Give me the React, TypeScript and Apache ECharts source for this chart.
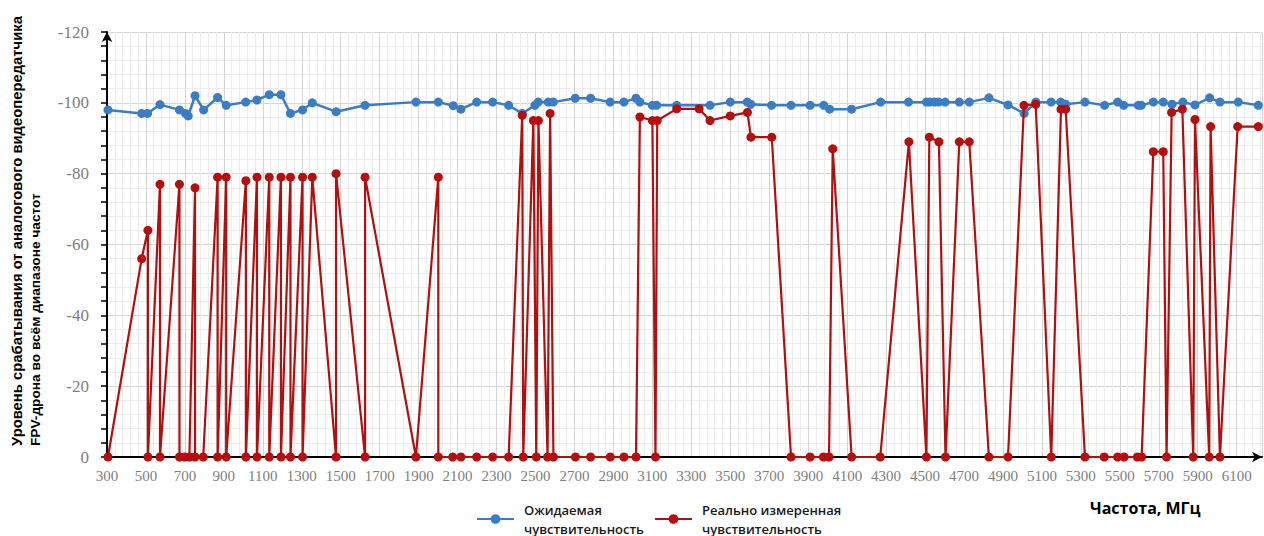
import React, { useEffect, useRef } from 'react';
import * as echarts from 'echarts';

const expectedName = 'Ожидаемая\nчувствительность';
const measuredName = 'Реально измеренная\nчувствительность';
const yTitleLine1 = 'Уровень срабатывания от аналогового видеопередатчика';
const yTitleLine2 = 'FPV-дрона во всём диапазоне частот';
const xTitle = 'Частота, МГц';

// [frequency MHz, level]
const expectedSensitivity: [number, number][] = [
  [305, -98], [478, -97], [508, -97], [572, -99.5], [672, -98], [703, -97], [717, -96.3],
  [752, -102], [796, -98], [868, -101.5], [912, -99.3], [1012, -100.2], [1070, -100.8],
  [1133, -102.3], [1193, -102.3], [1242, -97], [1304, -98], [1354, -100], [1476, -97.5],
  [1625, -99.3], [1886, -100.2], [2001, -100.2], [2078, -99.2], [2117, -98.2], [2198, -100.2],
  [2280, -100.2], [2362, -99.3], [2432, -97], [2497, -99.3], [2514, -100.2], [2565, -100.2],
  [2591, -100.2], [2704, -101.3], [2783, -101.3], [2883, -100.2], [2954, -100.2], [3016, -101.3],
  [3036, -100.2], [3100, -99.3], [3122, -99.3], [3225, -99.3], [3396, -99.3], [3500, -100.2],
  [3587, -100.2], [3605, -99.6], [3712, -99.3], [3812, -99.3], [3910, -99.3], [3980, -99.3],
  [4010, -98.2], [4123, -98.2], [4272, -100.2], [4415, -100.2], [4507, -100.2], [4524, -100.2],
  [4548, -100.2], [4570, -100.2], [4603, -100.2], [4676, -100.2], [4727, -100.2], [4828, -101.4],
  [4926, -99.4], [5009, -97], [5069, -100.2], [5147, -100.2], [5197, -100.2], [5222, -99.6],
  [5321, -100.2], [5422, -99.3], [5489, -100.2], [5520, -99.3], [5595, -99.3], [5610, -99.3],
  [5672, -100.2], [5723, -100.2], [5768, -99.6], [5824, -100.2], [5886, -99.4], [5961, -101.4],
  [6014, -100.2], [6108, -100.2], [6211, -99.3],
];

const measuredSensitivity: [number, number][] = [
  [305, 0], [478, -56], [510, -64], [510, 0], [572, -77], [572, 0], [672, -77], [672, 0],
  [700, 0], [723, 0], [752, -76], [752, 0], [794, 0], [868, -79], [868, 0], [912, -79], [912, 0],
  [1013, -78], [1013, 0], [1070, -79], [1070, 0], [1133, -79], [1133, 0], [1193, -79], [1193, 0],
  [1242, -79], [1242, 0], [1304, -79], [1304, 0], [1354, -79], [1476, 0], [1476, -80], [1625, 0],
  [1625, -79], [1886, 0], [2001, -79], [2001, 0], [2075, 0], [2117, 0], [2198, 0], [2280, 0],
  [2362, 0], [2432, -96.5], [2437, 0], [2489, -95], [2504, 0], [2515, -95], [2562, 0], [2575, -97],
  [2592, 0], [2705, 0], [2783, 0], [2884, 0], [2954, 0], [3016, 0], [3036, -96], [3100, -95],
  [3116, 0], [3125, -95], [3225, -98.3], [3340, -98.3], [3396, -95], [3500, -96.3], [3588, -97.3],
  [3606, -90.3], [3713, -90.3], [3812, 0], [3910, 0], [3978, 0], [4007, 0], [4026, -87], [4123, 0],
  [4270, 0], [4417, -89], [4507, 0], [4522, -90.3], [4571, -89], [4605, 0], [4676, -89], [4727, -89],
  [4828, 0], [4926, 0], [5008, -99.3], [5068, -99.6], [5148, 0], [5198, -98.2], [5222, -98.2],
  [5321, 0], [5420, 0], [5489, 0], [5522, 0], [5590, 0], [5612, 0], [5672, -86.2], [5723, -86.2],
  [5740, 0], [5766, -97.3], [5821, -98.2], [5877, 0], [5886, -95.3], [5959, 0], [5966, -93.3],
  [6014, 0], [6105, -93.3], [6211, -93.3],
];

const xMin = 300;
const xMax = 6230;
const xStep = 200;
const yMin = -120;
const yMax = 0;
const yStep = 20;

const serif = '"Liberation Serif", "DejaVu Serif", serif';

export default function App() {
  const ref = useRef<HTMLDivElement>(null);
  useEffect(() => {
    const chart = echarts.init(ref.current!, null, { renderer: 'svg' });
    const legendText = {
      color: '#1a1a1a',
      fontSize: 13,
      fontWeight: 600,
      fontFamily: 'Open Sans',
      lineHeight: 19,
      padding: [0, 0, 0, 5],
    };
    chart.setOption({
      animation: false,
      backgroundColor: '#ffffff',
      grid: { left: 107, right: 2, top: 32, bottom: 79, containLabel: false },
      xAxis: {
        type: 'value',
        min: xMin,
        max: xMax,
        interval: xStep,
        axisLine: {
          show: true,
          onZero: true,
          lineStyle: { color: '#000', width: 2 },
          symbol: ['none', 'arrow'],
          symbolSize: [8, 10],
        },
        axisTick: { show: false },
        minorTick: { show: false, splitNumber: 5 },
        axisLabel: {
          showMaxLabel: false,
          margin: 11,
          color: '#808080',
          fontFamily: serif,
          fontSize: 15,
          formatter: (v: number) => String(v),
        },
        splitLine: { show: true, lineStyle: { color: '#d4d4d4', width: 1 } },
        minorSplitLine: { show: true, lineStyle: { color: '#ececec', width: 1 } },
      },
      yAxis: {
        type: 'value',
        inverse: true,
        min: yMin,
        max: yMax,
        interval: yStep,
        axisLine: {
          show: true,
          onZero: false,
          lineStyle: { color: '#000', width: 2 },
          symbol: ['none', 'arrow'],
          symbolSize: [8, 10],
        },
        axisTick: { show: true, length: 6, lineStyle: { color: '#000', width: 1.5 } },
        minorTick: { show: true, splitNumber: 5, length: 6, lineStyle: { color: '#000', width: 1.5 } },
        axisLabel: {
          margin: 18,
          color: '#808080',
          fontFamily: serif,
          fontSize: 17,
          formatter: (v: number) => String(v),
        },
        splitLine: { show: true, lineStyle: { color: '#d4d4d4', width: 1 } },
        minorSplitLine: { show: true, lineStyle: { color: '#ececec', width: 1 } },
      },
      legend: [
        {
          data: [expectedName],
          left: 471,
          top: 495,
          itemWidth: 37,
          itemHeight: 12,
          textStyle: legendText,
        },
        {
          data: [measuredName],
          left: 649,
          top: 495,
          itemWidth: 37,
          itemHeight: 12,
          textStyle: legendText,
        },
      ],
      graphic: [
        {
          type: 'text',
          x: 17,
          y: 446,
          rotation: Math.PI / 2,
          style: {
            text: yTitleLine1,
            font: 'bold 14.8px "Liberation Sans"',
            fill: '#000',
            align: 'left',
            verticalAlign: 'middle',
          },
        },
        {
          type: 'text',
          x: 35,
          y: 446,
          rotation: Math.PI / 2,
          style: {
            text: yTitleLine2,
            font: 'bold 13.7px "Liberation Sans"',
            fill: '#000',
            align: 'left',
            verticalAlign: 'middle',
          },
        },
        {
          type: 'text',
          x: 1090,
          y: 508,
          style: {
            text: xTitle,
            font: 'bold 16px "Open Sans"',
            fill: '#000',
            align: 'left',
            verticalAlign: 'middle',
          },
        },
      ],
      series: [
        {
          name: expectedName,
          type: 'line',
          data: expectedSensitivity,
          symbol: 'circle',
          symbolSize: 9,
          showSymbol: true,
          showAllSymbol: true,
          itemStyle: { color: '#3b7cc6' },
          lineStyle: { color: '#3b7cc6', width: 2.5 },
          z: 2,
        },
        {
          name: measuredName,
          type: 'line',
          data: measuredSensitivity,
          symbol: 'circle',
          symbolSize: 9,
          showSymbol: true,
          showAllSymbol: true,
          itemStyle: { color: '#b80d0d' },
          lineStyle: { color: '#b01010', width: 2.2 },
          z: 3,
        },
      ],
    });
    return () => chart.dispose();
  }, []);
  return (
    <div
      ref={ref}
      style={{ position: 'fixed', left: 0, top: 0, width: 1264, height: 536, background: '#fff' }}
    />
  );
}
